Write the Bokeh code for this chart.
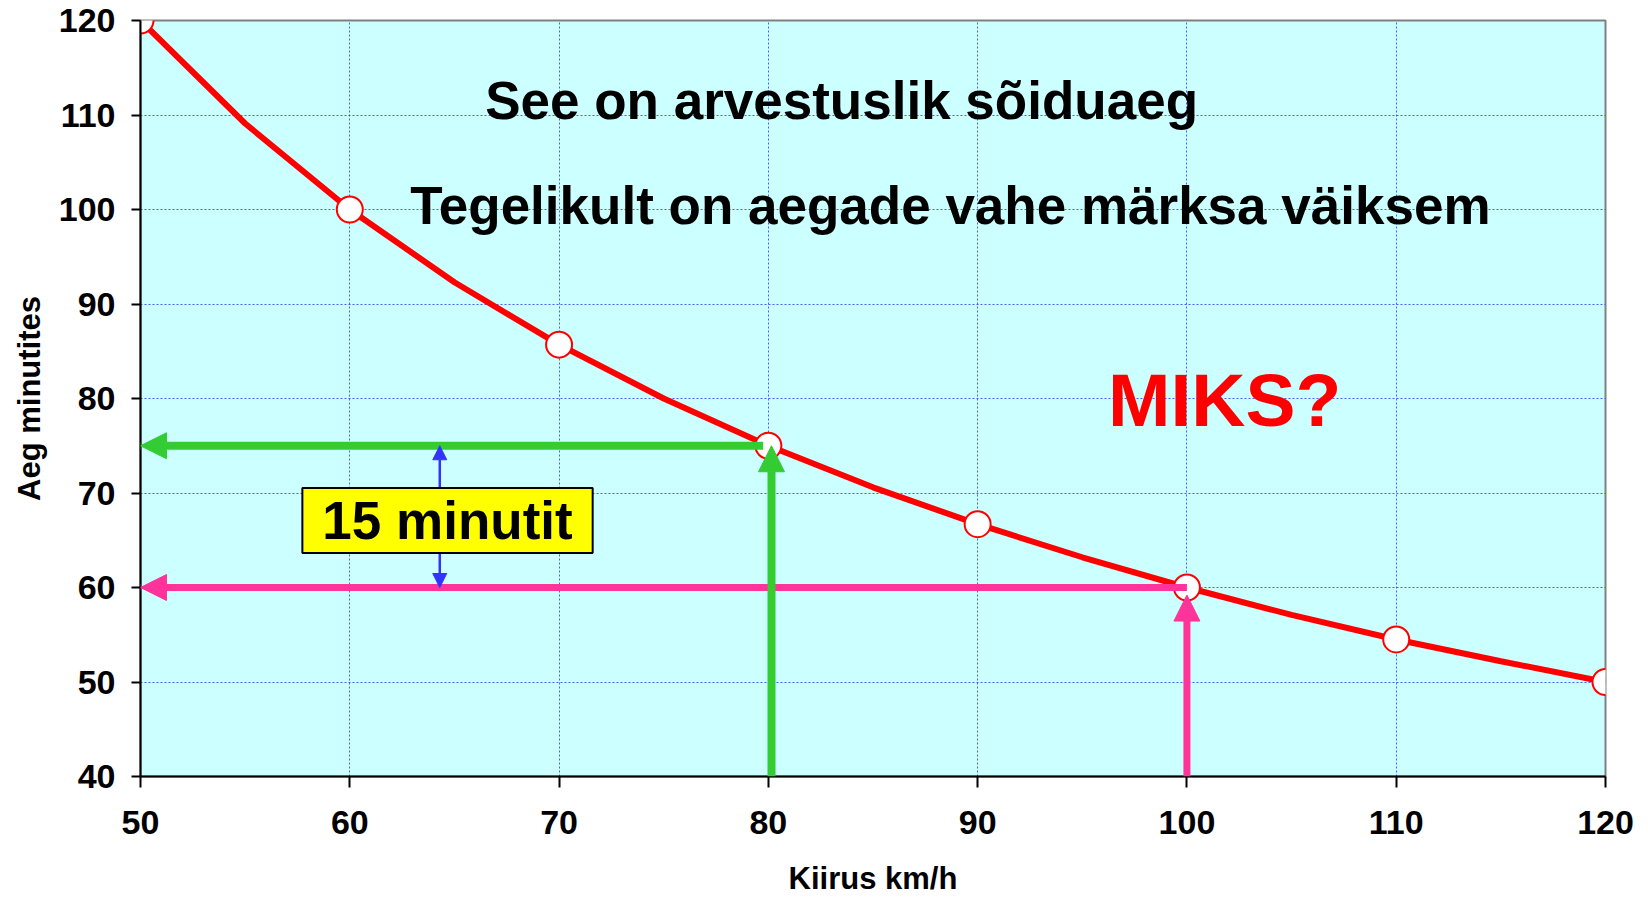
from bokeh.plotting import figure
from bokeh.models import (FixedTicker, Label, Arrow, NormalHead)
from bokeh.embed import file_html
from bokeh.resources import INLINE

# ---- data ----
speeds = [50, 60, 70, 80, 90, 100, 110, 120]
times = [120, 100, 85.7, 75, 66.7, 60, 54.5, 50]
# smoothed curve as drawn (values read every 5 km/h)
curve_speed = [50, 55, 60, 65, 70, 75, 80, 85, 90, 95, 100, 105, 110, 115, 120]
curve_time = [120, 109.1, 100, 92.3, 85.7, 80, 75, 70.6, 66.7, 63.2, 60, 57.1, 54.5, 52.2, 50]

x_ticks = [50, 60, 70, 80, 90, 100, 110, 120]
y_ticks = [40, 50, 60, 70, 80, 90, 100, 110, 120]

green_speed, green_time = 80.15, 75
pink_speed, pink_time = 100, 60
axis_floor = 40
axis_start = 50
diff_speed = 64.3

FONT = "Liberation Sans"

p = figure(width=1648, height=898, x_range=(50, 120), y_range=(40, 120),
           output_backend="svg", toolbar_location=None,
           min_border_left=140, min_border_top=20, min_border_right=43, min_border_bottom=122)
p.background_fill_color = "#CCFFFF"
p.border_fill_color = "white"
p.outline_line_color = "#808080"
p.outline_line_width = 2

for ax in (p.xaxis[0], p.yaxis[0]):
    ax.axis_line_color = "black"
    ax.axis_line_width = 2
    ax.major_tick_line_color = "black"
    ax.major_tick_line_width = 2
    ax.minor_tick_line_color = None
    ax.major_tick_in = 0
    ax.major_label_text_font = FONT
    ax.major_label_text_font_style = "bold"
    ax.major_label_text_font_size = "34px"
    ax.major_label_text_color = "black"
    ax.axis_label_text_font = FONT
    ax.axis_label_text_font_style = "bold"
    ax.axis_label_text_color = "black"

p.xaxis.ticker = FixedTicker(ticks=x_ticks)
p.yaxis.ticker = FixedTicker(ticks=y_ticks)
p.xaxis.major_tick_out = 11
p.yaxis.major_tick_out = 9
p.xaxis.major_label_standoff = 23
p.yaxis.major_label_standoff = 16
p.xaxis.axis_label = "Kiirus km/h"
p.yaxis.axis_label = "Aeg minutites"
p.xaxis.axis_label_text_font_size = "31px"
p.yaxis.axis_label_text_font_size = "31px"
p.xaxis.axis_label_standoff = 24
p.yaxis.axis_label_standoff = 9

p.grid.grid_line_color = "#3333FF"
p.grid.grid_line_width = 1
p.grid.grid_line_dash = "2 2"
p.grid.grid_line_alpha = 0.8
p.xgrid.ticker = FixedTicker(ticks=x_ticks)
p.ygrid.ticker = FixedTicker(ticks=y_ticks)

# curve and points
p.line(curve_speed, curve_time, line_color="#FF0000", line_width=6)
p.scatter(speeds, times, size=26, marker="circle", fill_color="white",
          line_color="#FF0000", line_width=2)

GREEN = "#33CC33"
PINK = "#FF3399"
BLUE = "#3333FF"

# horizontal arrows
p.add_layout(Arrow(x_start=green_speed - 0.4, y_start=green_time, x_end=axis_start, y_end=green_time,
                   line_color=GREEN, line_width=8,
                   end=NormalHead(size=26, fill_color=GREEN, line_color=GREEN)))
p.add_layout(Arrow(x_start=pink_speed, y_start=pink_time, x_end=axis_start, y_end=pink_time,
                   line_color=PINK, line_width=7,
                   end=NormalHead(size=26, fill_color=PINK, line_color=PINK)))
# vertical arrows
p.add_layout(Arrow(x_start=green_speed, y_start=axis_floor, x_end=green_speed, y_end=green_time,
                   line_color=GREEN, line_width=8,
                   end=NormalHead(size=26, fill_color=GREEN, line_color=GREEN)))
p.add_layout(Arrow(x_start=pink_speed, y_start=axis_floor, x_end=pink_speed, y_end=pink_time - 0.8,
                   line_color=PINK, line_width=7,
                   end=NormalHead(size=26, fill_color=PINK, line_color=PINK)))
# difference arrow
p.add_layout(Arrow(x_start=diff_speed, y_start=pink_time, x_end=diff_speed, y_end=green_time,
                   line_color=BLUE, line_width=2.5,
                   start=NormalHead(size=14, fill_color=BLUE, line_color=BLUE),
                   end=NormalHead(size=14, fill_color=BLUE, line_color=BLUE)))

# texts
p.add_layout(Label(x=83.5, y=111.5, text="See on arvestuslik sõiduaeg",
                   text_font=FONT, text_font_style="bold", text_font_size="53px",
                   text_align="center", text_baseline="middle", text_color="black"))
p.add_layout(Label(x=88.7, y=100.4, text="Tegelikult on aegade vahe märksa väiksem",
                   text_font=FONT, text_font_style="bold", text_font_size="53px",
                   text_align="center", text_baseline="middle", text_color="black"))
p.add_layout(Label(x=101.8, y=79.8, text="MIKS?",
                   text_font=FONT, text_font_style="bold", text_font_size="75px",
                   text_align="center", text_baseline="middle", text_color="#FF0000"))
p.add_layout(Label(x=64.67, y=67.1, text="15 minutit",
                   text_font=FONT, text_font_style="bold", text_font_size="53px",
                   text_align="center", text_baseline="middle", text_color="black",
                   background_fill_color="#FFFF00", border_line_color="black",
                   border_line_width=2, padding=(20, 3)))

open("out.html", "w").write(file_html(p, INLINE))
